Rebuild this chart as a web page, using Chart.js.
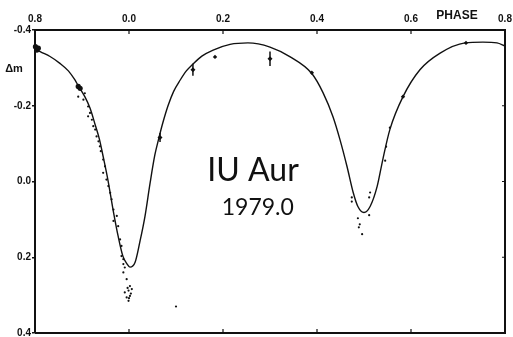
<!DOCTYPE html>
<html><head><meta charset="utf-8">
<script src="https://cdn.jsdelivr.net/npm/chart.js@4"></script>
<style>html,body{margin:0;padding:0;background:#fff;}#wrap{width:513px;height:337px;position:relative;}</style>
</head><body><div id="wrap"><canvas id="c" width="513" height="337"></canvas></div>
<script>
// Theoretical light curve (phase, delta m)
const curvePhase = [-0.200,-0.189,-0.168,-0.147,-0.129,-0.115,-0.108,-0.094,-0.083,-0.072,-0.063,-0.055,-0.045,-0.034,-0.023,-0.013,-0.004,0.002,0.013,0.023,0.034,0.045,0.055,0.063,0.072,0.083,0.095,0.109,0.122,0.136,0.155,0.179,0.215,0.253,0.300,0.343,0.389,0.413,0.434,0.449,0.464,0.477,0.487,0.500,0.513,0.528,0.540,0.555,0.583,0.619,0.662,0.715,0.753,0.783,0.800];
const curveDm    = [-0.351,-0.343,-0.330,-0.312,-0.292,-0.268,-0.253,-0.224,-0.194,-0.150,-0.112,-0.066,-0.005,0.074,0.145,0.197,0.218,0.226,0.213,0.160,0.092,0.003,-0.070,-0.112,-0.155,-0.200,-0.238,-0.268,-0.292,-0.310,-0.331,-0.347,-0.362,-0.366,-0.355,-0.329,-0.285,-0.234,-0.171,-0.110,-0.039,0.029,0.066,0.082,0.066,0.013,-0.058,-0.137,-0.224,-0.295,-0.339,-0.366,-0.368,-0.366,-0.358];
// Individual observations (small dots)
const obsPhase = [-0.094,-0.108,-0.097,-0.087,-0.083,-0.087,-0.079,-0.076,-0.072,-0.069,-0.065,-0.062,-0.060,-0.055,-0.051,-0.055,-0.048,-0.044,-0.040,-0.037,-0.033,-0.033,-0.026,-0.023,-0.019,-0.016,-0.016,-0.012,-0.012,-0.009,-0.012,-0.005,-0.009,-0.001,0.002,0.002,-0.005,-0.001,0.006,0.004,-0.003,0.000,0.100,0.474,0.474,0.513,0.511,0.511,0.487,0.491,0.489,0.496,0.547,0.545,0.555];
const obsDm    = [-0.233,-0.224,-0.216,-0.198,-0.181,-0.172,-0.163,-0.146,-0.137,-0.119,-0.106,-0.093,-0.080,-0.058,-0.040,-0.023,-0.005,0.012,0.030,0.047,0.074,0.104,0.091,0.118,0.153,0.170,0.197,0.205,0.218,0.227,0.240,0.258,0.293,0.288,0.276,0.302,0.306,0.315,0.284,0.296,0.281,0.308,0.330,0.042,0.053,0.029,0.042,0.089,0.097,0.113,0.121,0.139,-0.092,-0.055,-0.142];
// Dense clusters of observations (large blobs)
const blobPhase = [-0.196,-0.199,-0.193,-0.108,-0.104];
const blobDm    = [-0.347,-0.356,-0.352,-0.251,-0.246];
// Normal points
const normPhase = [0.183,0.389,0.583,0.717];
const normDm    = [-0.329,-0.287,-0.224,-0.366];
// Normal points with error bars
const errPhase = [0.066,0.136,0.300];
const errDm    = [-0.116,-0.295,-0.324];
const errSize  = [0.012,0.016,0.019];
// Axis ticks
const xTickValues = [-0.2,0.0,0.2,0.4,0.6,0.8];
const xTickLabels = ['0.8','0.0','0.2','0.4','0.6','0.8'];
const yTickValues = [-0.4,-0.2,0.0,0.2,0.4];
const yTickLabels = ['-0.4','-0.2','0.0','0.2','0.4'];

const pts = (xs, ys) => xs.map((x,i)=>({x:x, y:ys[i]}));
const INK = '#111';

const decor = {
  id:'decor',
  afterDraw(chart){
    const {ctx, chartArea:a, scales:{x, y}} = chart;
    ctx.save();
    ctx.strokeStyle = INK; ctx.lineWidth = 2;
    ctx.beginPath();
    ctx.moveTo(a.right, a.top-1); ctx.lineTo(a.right, a.bottom+1);
    ctx.moveTo(a.left, a.bottom); ctx.lineTo(a.right+1, a.bottom);
    ctx.stroke();
    ctx.lineWidth = 1.2;
    ctx.beginPath();
    xTickValues.forEach(v=>{
      const px = x.getPixelForValue(v);
      if (px <= a.left+2 || px >= a.right-2) return;
      ctx.moveTo(px, a.top); ctx.lineTo(px, a.top+4);
      ctx.moveTo(px, a.bottom); ctx.lineTo(px, a.bottom-4);
    });
    yTickValues.forEach(v=>{
      const py = y.getPixelForValue(v);
      if (py <= a.top+2 || py >= a.bottom-2) return;
      ctx.moveTo(a.right, py); ctx.lineTo(a.right-3, py);
    });
    ctx.stroke();
    // error bars
    ctx.lineWidth = 1.5;
    ctx.beginPath();
    errPhase.forEach((p,i)=>{
      const px = x.getPixelForValue(p);
      ctx.moveTo(px, y.getPixelForValue(errDm[i]-errSize[i]));
      ctx.lineTo(px, y.getPixelForValue(errDm[i]+errSize[i]));
    });
    ctx.stroke();
    // texts
    ctx.fillStyle = INK;
    ctx.textAlign = 'center'; ctx.textBaseline = 'middle';
    ctx.font = 'bold 12px "Liberation Sans", Arial, sans-serif';
    ctx.fillText('PHASE', 457, 16);
    ctx.font = 'bold 11px "Liberation Sans", Arial, sans-serif';
    ctx.fillText('\u0394m', 14, 69);
    ctx.font = '400 32px Lato, "DejaVu Sans", sans-serif';
    ctx.fillText('IU Aur', x.getPixelForValue(0.264), y.getPixelForValue(-0.029));
    ctx.font = '400 23px Lato, "DejaVu Sans", sans-serif';
    ctx.fillText('1979.0', x.getPixelForValue(0.274), y.getPixelForValue(0.068));
    ctx.restore();
  }
};

new Chart(document.getElementById('c'), {
  type:'scatter',
  data:{datasets:[
    {type:'line', data:pts(curvePhase, curveDm), borderColor:INK, borderWidth:1.4, pointRadius:0, cubicInterpolationMode:'monotone', fill:false},
    {data:pts(obsPhase, obsDm), backgroundColor:INK, borderWidth:0, pointRadius:1.1, clip:false},
    {data:pts(blobPhase, blobDm), backgroundColor:INK, borderWidth:0, pointRadius:2.6, clip:false},
    {data:pts(normPhase, normDm), backgroundColor:INK, borderWidth:0, pointRadius:2.2, pointStyle:'rectRot', clip:false},
    {data:pts(errPhase, errDm), backgroundColor:INK, borderWidth:0, pointRadius:2.5, pointStyle:'rectRot', clip:false}
  ]},
  options:{
    responsive:false, animation:false, devicePixelRatio:1,
    layout:{padding:{left:0, right:8, top:0, bottom:4}},
    plugins:{legend:{display:false}, tooltip:{enabled:false}, title:{display:false}},
    scales:{
      x:{type:'linear', position:'top', min:-0.2, max:0.8,
        afterBuildTicks:s=>{ s.ticks = xTickValues.map(v=>({value:v})); },
        afterFit:s=>{ s.height = 30; s.paddingLeft = 0; s.paddingRight = 0; },
        ticks:{callback:(v,i)=>xTickLabels[i], color:INK, padding:5, maxRotation:0, autoSkip:false,
          font:{family:'"Liberation Sans", Arial, sans-serif', size:10, weight:'bold'}},
        grid:{display:true, drawOnChartArea:false, drawTicks:false},
        border:{display:true, color:INK, width:2}},
      y:{type:'linear', position:'left', reverse:true, min:-0.4, max:0.4,
        afterBuildTicks:s=>{ s.ticks = yTickValues.map(v=>({value:v})); },
        afterFit:s=>{ s.width = 35; s.paddingTop = 0; s.paddingBottom = 0; },
        ticks:{callback:(v,i)=>yTickLabels[i], color:INK, padding:1, autoSkip:false,
          font:{family:'"Liberation Sans", Arial, sans-serif', size:10, weight:'bold'}},
        grid:{display:true, drawOnChartArea:false, drawTicks:true, tickLength:3, color:INK, lineWidth:1.5},
        border:{display:true, color:INK, width:2}}
    }
  },
  plugins:[decor]
});
</script></body></html>
